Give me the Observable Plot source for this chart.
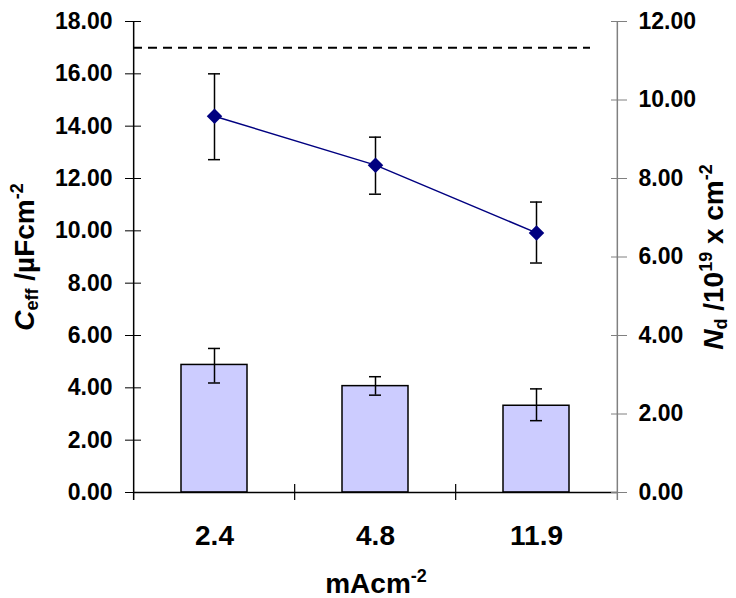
<!DOCTYPE html>
<html><head><meta charset="utf-8">
<script src="https://cdn.jsdelivr.net/npm/d3@7"></script>
<script src="https://cdn.jsdelivr.net/npm/@observablehq/plot@0.6"></script>
<style>body{margin:0;background:#fff}</style>
</head><body><div id="chart"></div>
<script>
// Current density categories (mA cm^-2)
const categories = ["2.4", "4.8", "11.9"];
// N_d / 10^19 cm^-2 (bars, right axis)
const ndValues = [3.25, 2.71, 2.21];
const ndLow = [2.79, 2.48, 1.83];
const ndHigh = [3.67, 2.95, 2.64];
// C_eff / µF cm^-2 (line, left axis)
const ceffValues = [14.38, 12.51, 9.92];
const ceffLow = [12.72, 11.40, 8.77];
const ceffHigh = [16.00, 13.58, 11.10];
// dashed reference level (left axis units)
const ceffReference = [17.0];
// tick labels
const ceffTicks = [0, 2, 4, 6, 8, 10, 12, 14, 16, 18];
const ndTicks = [0, 2, 4, 6, 8, 10, 12];
const ceffMax = 18, ndMax = 12;

const k = ceffMax / ndMax;
const W = 736, H = 598, mL = 133, mR = 118, mT = 21, mB = 106;
const step = (W - mL - mR) / categories.length;
const FONT = "'Liberation Sans', Arial, Helvetica, sans-serif";

const bars = categories.map((c, i) => ({c, v: ndValues[i] * k, lo: ndLow[i] * k, hi: ndHigh[i] * k}));
const pts = categories.map((c, i) => ({c, v: ceffValues[i], lo: ceffLow[i], hi: ceffHigh[i]}));

const errStyle = {stroke: "black", strokeWidth: 1.5};
const capStyle = {stroke: "black", strokeWidth: 1.5, insetLeft: 27, insetRight: 27};

const plot = Plot.plot({
  width: W, height: H,
  marginLeft: mL, marginRight: mR, marginTop: mT, marginBottom: mB,
  style: {fontFamily: FONT, fontWeight: "bold", background: "white", color: "black", overflow: "visible"},
  x: {type: "band", domain: categories, paddingInner: 0.59, paddingOuter: 0.295, axis: null},
  y: {domain: [0, ceffMax], axis: null},
  marks: [
    Plot.barY(bars, {x: "c", y: "v", fill: "#CCCCFF", stroke: "black", strokeWidth: 1.5}),
    Plot.ruleX(bars, {x: "c", y1: "lo", y2: "hi", ...errStyle}),
    Plot.tickY(bars, {x: "c", y: "lo", ...capStyle}),
    Plot.tickY(bars, {x: "c", y: "hi", ...capStyle}),
    Plot.ruleY(ceffReference, {stroke: "black", strokeWidth: 2, strokeDasharray: "9,6", insetRight: 28}),
    Plot.ruleX(pts, {x: "c", y1: "lo", y2: "hi", ...errStyle}),
    Plot.tickY(pts, {x: "c", y: "lo", ...capStyle}),
    Plot.tickY(pts, {x: "c", y: "hi", ...capStyle}),
    Plot.lineY(pts, {x: "c", y: "v", stroke: "#000080", strokeWidth: 1.5}),
    Plot.dot(pts, {x: "c", y: "v", symbol: "diamond2", r: 7, fill: "#000080", stroke: "none"}),
    Plot.ruleY([0], {stroke: "black", strokeWidth: 1.5}),
    Plot.ruleX([categories[0]], {dx: -step / 2, insetBottom: -8, stroke: "black", strokeWidth: 1.5}),
    Plot.ruleX([categories[categories.length - 1]], {dx: step / 2, insetBottom: -8, stroke: "#808080", strokeWidth: 1.5}),
    Plot.ruleX(categories.slice(1), {dx: -step / 2, y1: 0, y2: 0, insetTop: -8, insetBottom: -8, stroke: "black", strokeWidth: 1.2}),
    Plot.axisY(ceffTicks, {anchor: "left", tickSize: 16, dx: 8, tickPadding: 13, tickFormat: d => d.toFixed(2), fontSize: 23, fontWeight: "bold", label: null, stroke: "black", fill: "black"}),
    Plot.axisY(ndTicks.map(d => d * k), {anchor: "right", tickSize: 16, dx: -8, tickPadding: 12, tickFormat: d => (d / k).toFixed(2), fontSize: 23, fontWeight: "bold", label: null, stroke: "#808080", fill: "black"}),
    Plot.axisX({tickSize: 0, tickPadding: 33, fontSize: 28, fontWeight: "bold", label: null, fill: "black"})
  ]
});

const svg = d3.select(plot);
function title(transform, parts) {
  const t = svg.append("text")
    .attr("transform", transform)
    .attr("text-anchor", "middle")
    .attr("font-family", FONT)
    .attr("font-weight", "bold")
    .attr("font-size", 28)
    .attr("fill", "black");
  let shift = 0;
  for (const p of parts) {
    const s = t.append("tspan").text(p.text);
    const target = p.kind === "sup" ? -11 : p.kind === "sub" ? 4 : 0;
    if (target !== shift) s.attr("dy", target - shift);
    shift = target;
    if (p.kind) s.attr("font-size", 18);
    if (p.italic) s.attr("font-style", "italic");
  }
  return t;
}
title("translate(376,593)", [{text: "mAcm"}, {text: "-2", kind: "sup"}]);
title("translate(34,257) rotate(-90)", [
  {text: "C", italic: true}, {text: "eff", kind: "sub"}, {text: " /µFcm"}, {text: "-2", kind: "sup"}
]);
title("translate(723,257) rotate(-90)", [
  {text: "N", italic: true}, {text: "d", kind: "sub"}, {text: " /10"}, {text: "19", kind: "sup"},
  {text: " x cm"}, {text: "-2", kind: "sup"}
]);

document.getElementById("chart").appendChild(plot);
</script>
</body></html>
